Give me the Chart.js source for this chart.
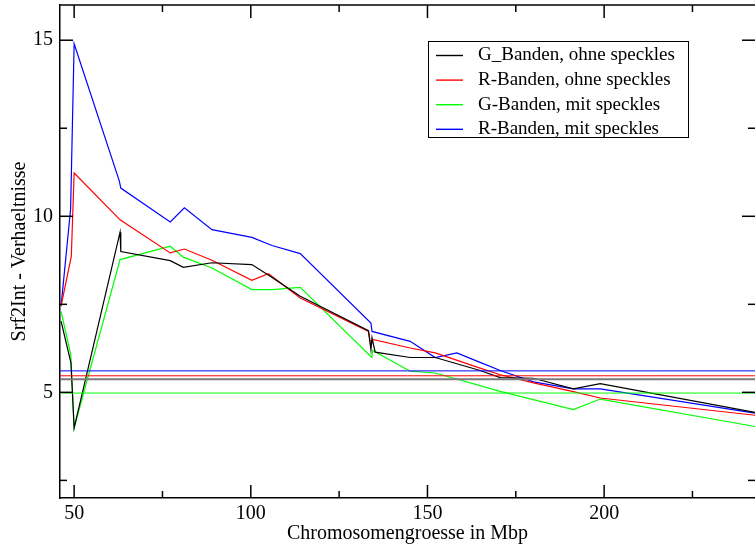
<!DOCTYPE html>
<html lang="de">
<head>
  <meta charset="UTF-8" />
  <title>Srf2Int - Verhaeltnisse</title>
  <script src="https://cdn.jsdelivr.net/npm/chart.js"></script>
  <style>
    html, body { margin: 0; padding: 0; background: #fff; overflow: hidden; }
    canvas { display: block; }
  </style>
</head>
<body>
  <canvas id="chart" width="755" height="549"></canvas>
  <script>
    // Werte (Chromosomengroesse in Mbp)
    const blackX = [46.3, 49.1, 50, 63, 63.2, 77.2, 80.9, 89, 100.3, 105.5, 114, 133.3, 134, 134.3, 135.2, 145.1, 152.2, 164.9, 170.6, 180, 191.3, 198.9, 242.7];
    const blackY = [7.02, 5.84, 3.99, 9.55, 9.0, 8.74, 8.55, 8.68, 8.63, 8.3, 7.73, 6.75, 6.21, 6.55, 6.14, 5.99, 5.99, 5.62, 5.42, 5.4, 5.1, 5.25, 4.43];

    const redX = [46.3, 49.2, 50, 63, 77.2, 81.2, 89, 100.3, 105, 114, 133.3, 134, 134.5, 145.1, 152.2, 164.9, 170.6, 180, 191.3, 198.9, 242.7];
    const redY = [7.45, 8.86, 11.23, 9.9, 8.96, 9.07, 8.75, 8.18, 8.37, 7.68, 6.73, 6.31, 6.5, 6.26, 6.12, 5.69, 5.5, 5.27, 5.02, 4.84, 4.35];

    const greenX = [46.3, 49.05, 50, 63, 77.2, 80.9, 89, 100.3, 106, 114, 134.25, 134.5, 145.1, 152.2, 170.6, 191.3, 198.9, 242.7];
    const greenY = [7.3, 6.07, 3.99, 8.77, 9.15, 8.84, 8.53, 7.92, 7.92, 7.98, 5.99, 6.19, 5.6, 5.55, 5.03, 4.51, 4.81, 4.03];

    const blueX = [46.3, 49, 50, 62.8, 63.2, 77.2, 81.2, 89, 100.3, 106, 114, 134, 134.3, 145.1, 152.2, 158.3, 164.9, 170.6, 180, 191.3, 198.9, 242.7];
    const blueY = [7.45, 10.2, 14.9, 11.0, 10.8, 9.84, 10.24, 9.62, 9.40, 9.17, 8.94, 6.97, 6.73, 6.45, 5.99, 6.12, 5.85, 5.62, 5.3, 5.1, 5.1, 4.41];

    // Mittelwerte (horizontale Linien)
    const meanBlack = 5.37;
    const meanRed = 5.47;
    const meanGreen = 4.98;
    const meanBlue = 5.61;

    const labels = ['G_Banden, ohne speckles', 'R-Banden, ohne speckles', 'G-Banden, mit speckles', 'R-Banden, mit speckles'];
    const colors = ['#000000', '#ff0000', '#00ff00', '#0000ff'];

    const xMin = 46, xMax = 242.7;
    const yMin = 2, yMax = 16;
    const xTicks = [50, 100, 150, 200];
    const xMinorTicks = [75, 125, 175, 225];
    const yTicks = [5, 10, 15];
    const yMinorTicks = [2.5, 7.5, 12.5];

    const serif = "'Liberation Serif', 'DejaVu Serif', serif";

    function pts(xs, ys) {
      return xs.map((x, i) => ({ x: x, y: ys[i] }));
    }
    function hline(v) {
      return [{ x: xMin, y: v }, { x: xMax, y: v }];
    }

    const series = [[blackX, blackY], [redX, redY], [greenX, greenY], [blueX, blueY]];
    const means = [meanBlack, meanRed, meanGreen, meanBlue];

    const datasets = [];
    // Mittelwertlinien zuerst (liegen unten)
    means.forEach((m, i) => {
      datasets.push({
        data: hline(m),
        borderColor: i === 0 ? '#7a7a7a' : colors[i],
        borderWidth: i === 0 ? 2 : 1,
        pointRadius: 0
      });
    });
    series.forEach(([xs, ys], i) => {
      datasets.push({
        label: labels[i],
        data: pts(xs, ys),
        borderColor: colors[i],
        borderWidth: 1.2,
        pointRadius: 0
      });
    });

    // Ticks nach innen, auf allen Seiten
    const innerTicks = {
      id: 'innerTicks',
      afterDraw(chart) {
        const { ctx, chartArea: a, scales: { x, y } } = chart;
        ctx.save();
        ctx.strokeStyle = '#000';
        ctx.lineWidth = 1.5;
        const tick = (x1, y1, x2, y2) => { ctx.beginPath(); ctx.moveTo(x1, y1); ctx.lineTo(x2, y2); ctx.stroke(); };
        xTicks.forEach(v => { const p = x.getPixelForValue(v); tick(p, a.bottom, p, a.bottom - 13); tick(p, a.top, p, a.top + 13); });
        xMinorTicks.forEach(v => { const p = x.getPixelForValue(v); tick(p, a.bottom, p, a.bottom - 7); tick(p, a.top, p, a.top + 7); });
        yTicks.forEach(v => { const p = y.getPixelForValue(v); tick(a.left, p, a.left + 13, p); tick(a.right, p, a.right - 13, p); });
        yMinorTicks.forEach(v => { const p = y.getPixelForValue(v); tick(a.left, p, a.left + 7, p); tick(a.right, p, a.right - 7, p); });
        // obere Achse
        tick(a.left, a.top, a.right, a.top);
        ctx.restore();
      }
    };

    // Legende im Diagramm
    const boxLegend = {
      id: 'boxLegend',
      afterDraw(chart) {
        const ctx = chart.ctx;
        const bx = 428, by = 41, bw = 260, bh = 96;
        ctx.save();
        ctx.fillStyle = '#fff';
        ctx.fillRect(bx, by, bw, bh);
        ctx.strokeStyle = '#000';
        ctx.lineWidth = 1;
        ctx.strokeRect(bx + 0.5, by + 0.5, bw, bh);
        ctx.font = "19px " + serif;
        ctx.textBaseline = 'middle';
        labels.forEach((txt, i) => {
          const ry = 55.5 + i * 24.6;
          ctx.strokeStyle = colors[i];
          ctx.lineWidth = 1.4;
          ctx.beginPath();
          ctx.moveTo(436, ry);
          ctx.lineTo(463, ry);
          ctx.stroke();
          ctx.fillStyle = '#000';
          ctx.fillText(txt, 478, ry);
        });
        ctx.restore();
      }
    };

    new Chart(document.getElementById('chart'), {
      type: 'scatter',
      data: { datasets: datasets },
      options: {
        responsive: false,
        animation: false,
        showLine: true,
        layout: { padding: { top: 5, right: 0, left: 0, bottom: 0 } },
        plugins: { legend: { display: false }, tooltip: { enabled: false } },
        scales: {
          x: {
            type: 'linear',
            min: xMin,
            max: xMax,
            afterBuildTicks: s => { s.ticks = xTicks.map(v => ({ value: v })); },
            afterFit: s => { s.height = 51; s.paddingLeft = 0; s.paddingRight = 0; },
            grid: { display: false, drawTicks: false },
            border: { display: true, color: '#000', width: 1.5 },
            ticks: { color: '#000', padding: 4, maxRotation: 0, font: { family: serif, size: 20 } },
            title: { display: true, text: 'Chromosomengroesse in Mbp', color: '#000', padding: { top: 0, bottom: 3 }, font: { family: serif, size: 20 } }
          },
          y: {
            type: 'linear',
            min: yMin,
            max: yMax,
            afterBuildTicks: s => { s.ticks = yTicks.map(v => ({ value: v })); },
            afterFit: s => { s.width = 60; s.paddingTop = 0; s.paddingBottom = 0; },
            grid: { display: false, drawTicks: false },
            border: { display: true, color: '#000', width: 1.5 },
            ticks: { color: '#000', padding: 7, font: { family: serif, size: 20 } },
            title: { display: true, text: 'Srf2Int - Verhaeltnisse', color: '#000', padding: { top: 8, bottom: 0 }, font: { family: serif, size: 20 } }
          }
        }
      },
      plugins: [innerTicks, boxLegend]
    });
  </script>
</body>
</html>
